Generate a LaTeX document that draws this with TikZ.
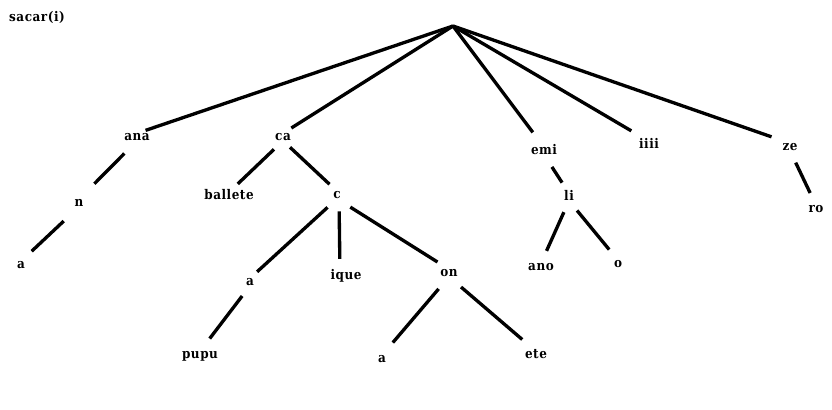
\documentclass[tikz,border=0pt]{standalone}
\usepackage{fontspec}
\setmainfont{DejaVu Serif Condensed}[LetterSpace=4]
\begin{document}
\begin{tikzpicture}[x=0.75pt,y=-0.75pt,
  lbl/.style={inner sep=0pt,text height=1ex,text depth=0pt,font=\fontsize{10}{12}\selectfont\bfseries},
  edge/.style={line width=2.5pt,line cap=butt}]
\useasboundingbox (0,0) rectangle (832,410);
% labels
\node[lbl] (title) at (37,18) {sacar(i)};
\coordinate (root) at (453,26);
\node[lbl] (ana) at (137,137) {ana};
\node[lbl] (ca) at (283,137) {ca};
\node[lbl] (emi) at (544,151) {emi};
\node[lbl] (iiii) at (649,145) {iiii};
\node[lbl] (ze) at (790,147) {ze};
\node[lbl] (n) at (79,203) {n};
\node[lbl] (a1) at (21,265) {a};
\node[lbl] (ballete) at (229,196) {ballete};
\node[lbl] (c) at (337,195) {c};
\node[lbl] (a2) at (250,282) {a};
\node[lbl] (ique) at (346,276) {ique};
\node[lbl] (on) at (449,273) {on};
\node[lbl] (pupu) at (200,355) {pupu};
\node[lbl] (a3) at (382,359) {a};
\node[lbl] (ete) at (536,355) {ete};
\node[lbl] (li) at (569,197) {li};
\node[lbl] (ano) at (541,267) {ano};
\node[lbl] (o) at (618,264) {o};
\node[lbl] (ro) at (816,209) {ro};
% edges from root
\draw[edge,shorten >=6.8pt] (root) -- (ana.north);
\draw[edge,shorten >=7.4pt] (root) -- (ca.north);
\draw[edge,shorten >=14pt] (root) -- (emi.north);
\draw[edge,shorten >=15.4pt] (root) -- (iiii.north);
\draw[edge,shorten >=14.7pt] (root) -- (ze.north);
% inner edges
\draw[edge,shorten <=13.5pt,shorten >=16.4pt] (ana.south) -- (n.north);
\draw[edge,shorten <=15.7pt,shorten >=11pt] (n.south) -- (a1.north);
\draw[edge,shorten <=9.4pt,shorten >=9.1pt] (ca.south) -- (ballete.north);
\draw[edge,shorten <=7.2pt,shorten >=7.7pt] (ca.south) -- (c.north);
\draw[edge,shorten <=9.6pt,shorten >=7.2pt] (c.south) -- (a2.north);
\draw[edge,shorten <=9.5pt,shorten >=10pt] ([xshift=1.5pt]c.south) -- ([xshift=-4.5pt]ique.north);
\draw[edge,shorten <=11.8pt,shorten >=10.2pt] (c.south) -- (on.north);
\draw[edge,shorten <=9.7pt,shorten >=12pt] (a2.south) -- (pupu.north);
\draw[edge,shorten <=12pt,shorten >=12.5pt] (on.south) -- (a3.north);
\draw[edge,shorten <=11.9pt,shorten >=13.6pt] (on.south) -- (ete.north);
\draw[edge,shorten <=10.9pt,shorten >=9.5pt] (emi.south) -- (li.north);
\draw[edge,shorten <=9.4pt,shorten >=10.2pt] (li.south) -- (ano.north);
\draw[edge,shorten <=9.5pt,shorten >=10.4pt] (li.south) -- (o.north);
\draw[edge,shorten <=9.9pt,shorten >=10.2pt] (ze.south) -- (ro.north);
\end{tikzpicture}
\end{document}
